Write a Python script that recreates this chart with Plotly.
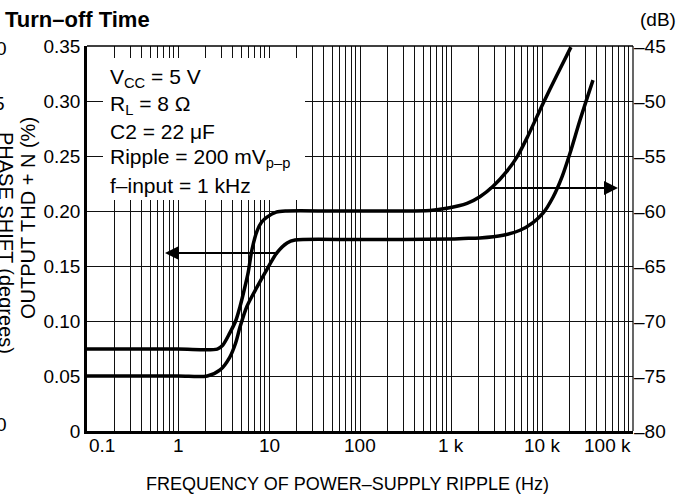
import math
import plotly.graph_objects as go

# ---- data ----
freq_a = [0.1, 1.0, 2.7, 3.1, 3.7, 4.3, 4.8, 5.4, 5.9, 6.5, 7.4, 8.3, 9.5, 12, 15.8, 50, 200, 590,
          900, 1500, 2080, 2900, 4100, 5300, 6800, 10300, 14600, 20800]
thd_a = [0.0745, 0.0745, 0.0745, 0.078, 0.089, 0.100, 0.113, 0.130, 0.144, 0.165, 0.182, 0.190,
         0.1945, 0.199, 0.200, 0.200, 0.200, 0.2005,
         0.2025, 0.207, 0.213, 0.2225, 0.236, 0.249, 0.266, 0.298, 0.3236, 0.349]

freq_b = [0.1, 1.0, 2.1, 2.9, 3.7, 4.3, 4.8, 5.7, 7.4, 9.5, 12.2, 15.8, 19.3, 100, 1000, 1360,
          2080, 3730, 5730, 7960, 10260, 13210, 16590, 20310, 26170, 36340]
thd_b = [0.05, 0.05, 0.05, 0.0555, 0.067, 0.080, 0.0945, 0.113, 0.131, 0.147, 0.162, 0.171,
         0.1736, 0.174, 0.1745, 0.175, 0.1755, 0.178, 0.1825, 0.1895, 0.198, 0.2125, 0.231,
         0.2525, 0.2827, 0.319]

left_ticks = [0, 0.05, 0.10, 0.15, 0.20, 0.25, 0.30, 0.35]
left_labels = ["0", "0.05", "0.10", "0.15", "0.20", "0.25", "0.30", "0.35"]
right_ticks = [-80, -75, -70, -65, -60, -55, -50, -45]
right_labels = ["–80", "–75", "–70", "–65", "–60", "–55", "–50", "–45"]
x_ticks = [0.1, 1, 10, 100, 1000, 10000, 100000]
x_labels = ["0.1", "1", "10", "100", "1 k", "10 k", "100 k"]

conditions = ["V<sub>CC</sub> = 5 V", "R<sub>L</sub> = 8 Ω", "C2 = 22 μF",
              "Ripple = 200 mV<sub>p–p</sub>", "f–input = 1 kHz"]

arrow_left = dict(y=0.1618, f_from=12.2, f_to=0.72)
arrow_right = dict(y=0.2209, f_from=2550, f_to=68400)

# ---- layout geometry (pixels) ----
W, H = 689, 500
L, R, T, B = 87, 633, 46, 431
PW, PH = R - L, B - T


def px(x):
    return (x - L) / PW


def py(y):
    return (B - y) / PH


FONT = "Liberation Sans, Arial, Helvetica, sans-serif"
FS = 19

fig = go.Figure()
for fx, fy in ((freq_a, thd_a), (freq_b, thd_b)):
    fig.add_trace(go.Scatter(x=fx, y=fy, mode="lines",
                             line=dict(color="black", width=3.5, shape="spline", smoothing=0.8),
                             showlegend=False, hoverinfo="skip"))
# invisible trace to activate right axis
fig.add_trace(go.Scatter(x=[0.1], y=[-80], yaxis="y2", mode="markers",
                         marker=dict(opacity=0), showlegend=False, hoverinfo="skip"))

annotations = []
# x tick labels
for v, lab in zip(x_ticks, x_labels):
    anchor = "center"
    if v == x_ticks[0]:
        anchor = "left"
    elif v == x_ticks[-1]:
        anchor = "right"
    annotations.append(dict(x=math.log10(v), xref="x", y=py(445), yref="paper",
                            text=lab, showarrow=False, xanchor=anchor, yanchor="middle",
                            font=dict(size=FS, family=FONT, color="black")))
# condition text
for i, t in enumerate(conditions):
    annotations.append(dict(x=px(108), y=py(78 + i * 26.8), xref="paper", yref="paper",
                            text=t, showarrow=False, xanchor="left", yanchor="middle",
                            font=dict(size=21, family=FONT, color="black")))
# arrows
for a in (arrow_left, arrow_right):
    annotations.append(dict(x=math.log10(a["f_to"]), y=a["y"], xref="x", yref="y",
                            ax=math.log10(a["f_from"]), ay=a["y"], axref="x", ayref="y",
                            text="", showarrow=True, arrowhead=2, arrowsize=1.4,
                            arrowwidth=2, arrowcolor="black"))
# titles and other text
annotations += [
    dict(x=px(3), y=py(19), xref="paper", yref="paper", text="<b>Turn–off Time</b>",
         showarrow=False, xanchor="left", yanchor="middle",
         font=dict(size=22, family=FONT, color="black")),
    dict(x=px(638), y=py(19), xref="paper", yref="paper", text="(dB)",
         showarrow=False, xanchor="left", yanchor="middle",
         font=dict(size=FS, family=FONT, color="black")),
    dict(x=px(347), y=py(484), xref="paper", yref="paper",
         text="FREQUENCY OF POWER–SUPPLY RIPPLE (Hz)",
         showarrow=False, xanchor="center", yanchor="middle",
         font=dict(size=18, family=FONT, color="black")),
    dict(x=px(28), y=py(218), xref="paper", yref="paper", text="OUTPUT THD + N (%)",
         showarrow=False, textangle=-90, xanchor="center", yanchor="middle",
         font=dict(size=20, family=FONT, color="black")),
    dict(x=px(6), y=py(243), xref="paper", yref="paper", text="PHASE SHIFT (degrees)",
         showarrow=False, textangle=90, xanchor="center", yanchor="middle",
         font=dict(size=20, family=FONT, color="black")),
    dict(x=px(9), y=py(48), xref="paper", yref="paper", text="0",
         showarrow=False, xanchor="right", yanchor="middle",
         font=dict(size=FS, family=FONT, color="black")),
    dict(x=px(7), y=py(103), xref="paper", yref="paper", text="5",
         showarrow=False, xanchor="right", yanchor="middle",
         font=dict(size=FS, family=FONT, color="black")),
    dict(x=px(9), y=py(424), xref="paper", yref="paper", text="0",
         showarrow=False, xanchor="right", yanchor="middle",
         font=dict(size=FS, family=FONT, color="black")),
]

shapes = [
    # white box behind the conditions
    dict(type="rect", xref="paper", yref="paper", x0=px(103), x1=px(305), y0=py(200), y1=py(58),
         fillcolor="white", line=dict(width=0), layer="above"),
    # frame top and right
    dict(type="line", xref="paper", yref="paper", x0=0, x1=1, y0=1, y1=1,
         line=dict(color="black", width=1.5)),
    dict(type="line", xref="paper", yref="paper", x0=1, x1=1, y0=0, y1=1,
         line=dict(color="black", width=1.2)),
]

fig.update_layout(
    width=W, height=H,
    margin=dict(l=L, r=W - R, t=T, b=H - B),
    paper_bgcolor="white", plot_bgcolor="white",
    font=dict(family=FONT, size=FS, color="black"),
    xaxis=dict(type="log", range=[-1, 5], dtick=1, showticklabels=False, ticks="",
               showgrid=True, gridcolor="#111", gridwidth=1,
               minor=dict(dtick="D1", showgrid=True, gridcolor="#111", gridwidth=1, ticks=""),
               showline=True, linecolor="black", linewidth=2.5, zeroline=False),
    yaxis=dict(range=[0, 0.35], tickvals=left_ticks, ticktext=left_labels, ticks="",
               showgrid=True, gridcolor="#111", gridwidth=1, zeroline=False,
               showline=True, linecolor="black", linewidth=2.5,
               tickfont=dict(size=FS, family=FONT, color="black")),
    yaxis2=dict(range=[-80, -45], overlaying="y", side="right", tickvals=right_ticks,
                ticktext=right_labels, ticks="", showgrid=False, zeroline=False, showline=False,
                tickfont=dict(size=FS, family=FONT, color="black")),
    annotations=annotations,
    shapes=shapes,
)

fig.write_html("out.html", config={"displayModeBar": False},
               post_script="document.body.style.margin='0';document.body.style.overflow='hidden';")
